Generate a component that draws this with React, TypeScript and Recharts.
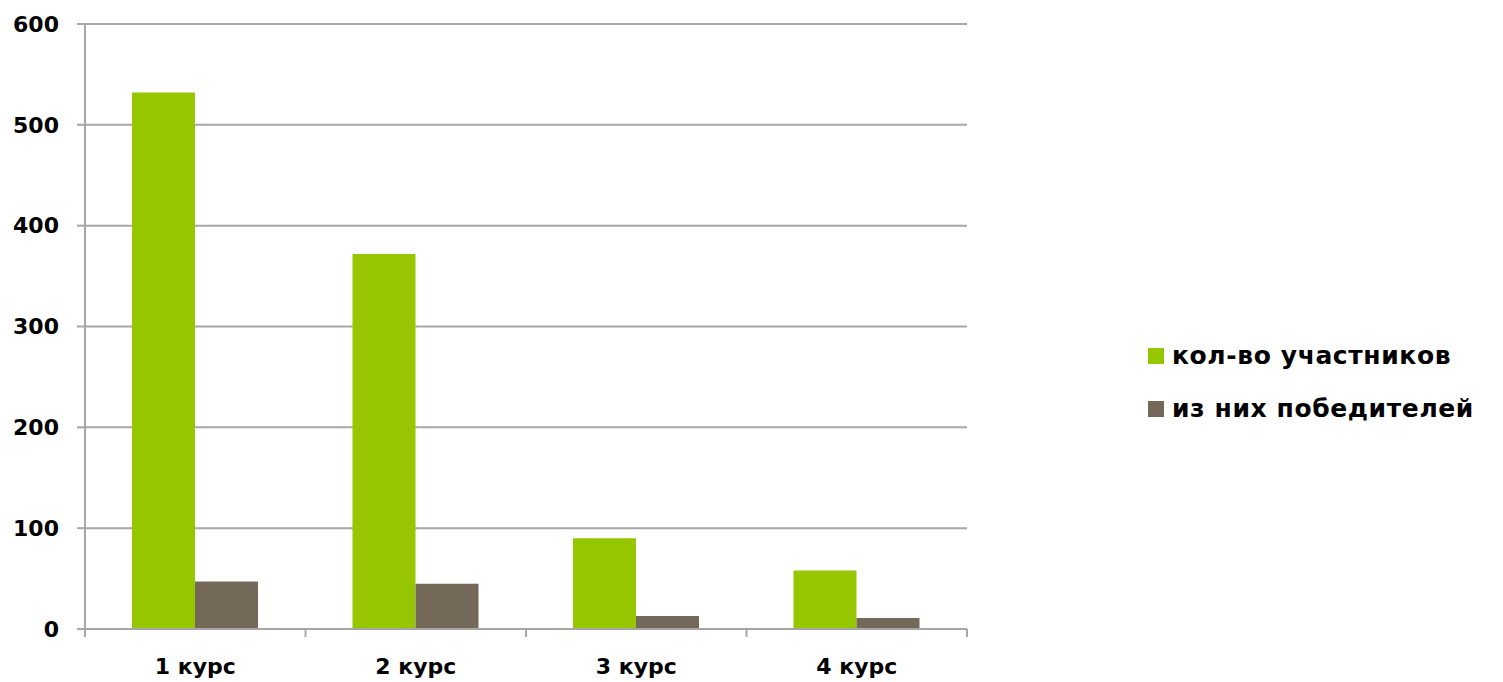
import {Bar, BarChart, CartesianGrid, Legend, XAxis, YAxis} from 'recharts';

const courses = ['1 курс', '2 курс', '3 курс', '4 курс'];
const participants = [532, 372, 90, 58];
const winners = [47, 45, 13, 11];
const yTicks = [0, 100, 200, 300, 400, 500, 600];

const seriesNames = ['кол-во участников', 'из них победителей'];
const colors = ['#95C600', '#746858'];

const data = courses.map((course, i) => ({
  course,
  participants: participants[i],
  winners: winners[i],
}));

const FONT = '"DejaVu Sans", sans-serif';
const PLOT_LEFT = 85;
const PLOT_RIGHT = 967;
const LEGEND_W = 363;
const BAND = (PLOT_RIGHT - PLOT_LEFT) / courses.length;

function CourseTick(props: any) {
  const { x, y, payload, index } = props;
  const left = x - BAND / 2;
  return (
    <g>
      <line x1={left} y1={y - 8} x2={left} y2={y} stroke="#a6a6a6" strokeWidth={2} />
      {index === courses.length - 1 && (
        <line x1={left + BAND} y1={y - 8} x2={left + BAND} y2={y} stroke="#a6a6a6" strokeWidth={2} />
      )}
      <text x={x} y={y + 37} textAnchor="middle" fontFamily={FONT} fontWeight={700} fontSize={22} fill="#000">
        {payload.value}
      </text>
    </g>
  );
}

function LegendContent() {
  return (
    <div style={{ fontFamily: FONT, fontWeight: 700, fontSize: 25, color: '#000', whiteSpace: 'nowrap' }}>
      {seriesNames.map((name, i) => (
        <div key={name} style={{ display: 'flex', alignItems: 'center', height: 53 }}>
          <span style={{ display: 'inline-block', width: 16, height: 16, background: colors[i], marginRight: 8 }} />
          <span style={{ letterSpacing: 0.6 }}>{name}</span>
        </div>
      ))}
    </div>
  );
}

export default function App() {
  return (
    <div style={{ position: 'absolute', left: 0, top: 0, background: '#fff' }}>
      <BarChart
        width={1503}
        height={682}
        data={data}
        margin={{ top: 24, right: 1503 - PLOT_RIGHT - LEGEND_W, left: 0, bottom: 0 }}
        barGap={0}
        barSize={63}
      >
        <CartesianGrid vertical={false} stroke="#a6a6a6" strokeWidth={2} />
        <XAxis
          dataKey="course"
          height={53}
          axisLine={{ stroke: '#a6a6a6', strokeWidth: 2 }}
          tickLine={false}
          tick={<CourseTick />}
          interval={0}
        />
        <YAxis
          width={PLOT_LEFT}
          domain={[0, 600]}
          ticks={yTicks}
          interval={0}
          axisLine={{ stroke: '#a6a6a6', strokeWidth: 2 }}
          tickLine={{ stroke: '#a6a6a6', strokeWidth: 2 }}
          tickSize={8}
          tickMargin={18}
          tick={{ fontFamily: FONT, fontWeight: 700, fontSize: 22, fill: '#000' }}
        />
        <Legend
          layout="vertical"
          align="right"
          verticalAlign="top"
          content={<LegendContent />}
          wrapperStyle={{ position: 'absolute', left: 1148, top: 329, width: LEGEND_W }}
        />
        <Bar dataKey="participants" name={seriesNames[0]} fill={colors[0]} isAnimationActive={false} />
        <Bar dataKey="winners" name={seriesNames[1]} fill={colors[1]} isAnimationActive={false} />
      </BarChart>
    </div>
  );
}
